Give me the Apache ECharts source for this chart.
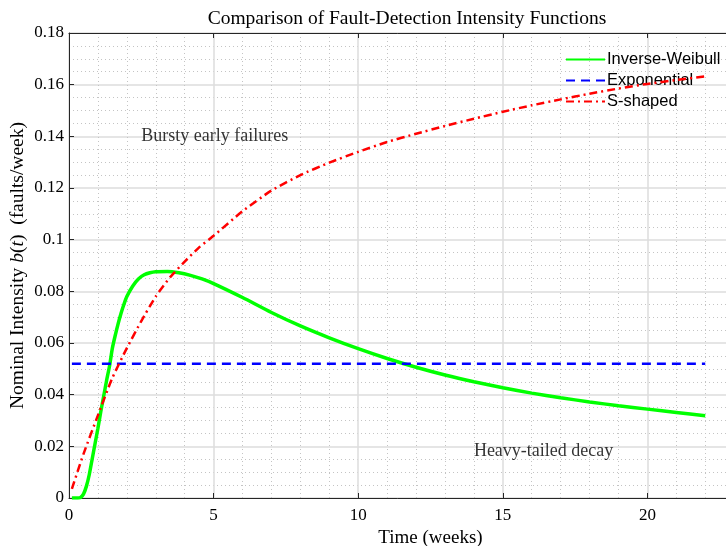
<!DOCTYPE html>
<html>
<head>
<meta charset="utf-8">
<script src="https://cdn.jsdelivr.net/npm/echarts@6/dist/echarts.min.js"></script>
<style>
  html, body { margin: 0; padding: 0; background: #fff; overflow: hidden; }
  #chart { width: 726px; height: 546px; }
</style>
</head>
<body>
<div id="chart"></div>
<script>
(function () {
    "use strict";
    // values
    var weibullT = [0.1, 0.3, 0.4, 0.5, 0.6, 0.7, 0.8, 0.9, 1.0, 1.1, 1.2, 1.3, 1.4, 1.5, 1.6, 1.7, 1.8, 1.9, 2.0, 2.2, 2.4, 2.6, 2.8, 3.0, 3.4, 3.8, 4.2, 4.6, 5, 6, 7, 8, 9, 10, 11, 12, 13, 14, 15, 16, 17, 18, 19, 20, 21, 22];
    var weibullV = [0, 0, 0.0002, 0.0015, 0.0045, 0.009, 0.015, 0.021, 0.027, 0.0335, 0.0395, 0.0455, 0.051, 0.058, 0.063, 0.0675, 0.0715, 0.075, 0.078, 0.082, 0.0848, 0.0864, 0.0872, 0.0876, 0.0877, 0.0872, 0.0862, 0.0848, 0.083, 0.0776, 0.0718, 0.0666, 0.062, 0.0578, 0.054, 0.0506, 0.0476, 0.045, 0.0427, 0.0406, 0.0388, 0.0372, 0.0357, 0.0344, 0.0331, 0.0318];
    var expT = [0.1, 22];
    var expV = [0.052, 0.052];
    var sT = [0.1, 0.5, 1.0, 1.5, 2.0, 2.5, 3.0, 3.5, 4.0, 4.5, 5, 6, 7, 8, 9, 10, 11, 12, 13, 14, 15, 16, 17, 18, 19, 20, 21, 22];
    var sV = [0.0035, 0.017, 0.032, 0.0465, 0.058, 0.0685, 0.078, 0.0855, 0.0915, 0.097, 0.1015, 0.111, 0.119, 0.125, 0.1298, 0.134, 0.1378, 0.141, 0.144, 0.1468, 0.1495, 0.152, 0.1543, 0.1565, 0.1585, 0.1603, 0.1618, 0.1632];
    var seriesNames = ["Inverse-Weibull", "Exponential", "S-shaped"];
    var xTicks = [0, 5, 10, 15, 20, 25];
    var yTicks = [0, 0.02, 0.04, 0.06, 0.08, 0.1, 0.12, 0.14, 0.16, 0.18];
    var notes = [
        { t: 2.5, v: 0.14, text: "Bursty early failures" },
        { t: 14.0, v: 0.018, text: "Heavy-tailed decay" }
    ];

    function pairs(ts, vs) {
        var out = [];
        for (var i = 0; i < ts.length; i++) out.push([ts[i], vs[i]]);
        return out;
    }

    var serif = "Liberation Serif";
    var axisColor = "#262626";
    var chart = echarts.init(document.getElementById("chart"));

    // the right part of the axes box falls outside the window, like the reference
    var baseX = {
        type: "value",
        min: xTicks[0],
        max: xTicks[xTicks.length - 1],
        interval: 5,
        axisLine: { onZero: false, lineStyle: { color: axisColor, width: 1 } },
        axisTick: { inside: true, length: 5, lineStyle: { color: axisColor } }
    };

    var option = {
        animation: false,
        backgroundColor: "#fff",
        title: {
            text: "Comparison of Fault-Detection Intensity Functions",
            left: 402,
            textAlign: "center",
            top: 4,
            textStyle: { fontFamily: serif, fontSize: 19.5, fontWeight: "normal", color: "#000" }
        },
        legend: {
            orient: "vertical",
            left: 565,
            top: 51,
            padding: 0,
            itemWidth: 39,
            itemHeight: 14,
            itemGap: 4,
            data: seriesNames,
            itemStyle: { opacity: 0 },
            textStyle: { fontFamily: "Liberation Sans", fontSize: 16.5, color: "#000", padding: [0, 0, 0, -3] }
        },
        grid: { left: 69, top: 33, bottom: 48, width: 723, containLabel: false, outerBoundsMode: "none" },
        xAxis: [
            Object.assign({}, baseX, {
                position: "bottom",
                name: "Time (weeks)",
                nameLocation: "middle",
                nameGap: 30,
                nameTextStyle: { fontFamily: serif, fontSize: 19, color: "#000" },
                axisLabel: { margin: 9, fontFamily: serif, fontSize: 17, color: "#000" },
                splitLine: { show: true, lineStyle: { color: "#dcdcdc", width: 1.5 } },
                minorTick: { show: true, splitNumber: 5, length: 0 },
                minorSplitLine: { show: true, lineStyle: { color: "#c4c4c4", width: 1, type: [1, 3] } }
            }),
            Object.assign({}, baseX, {
                position: "top",
                axisLabel: { show: false },
                splitLine: { show: false }
            })
        ],
        yAxis: {
            type: "value",
            min: yTicks[0],
            max: yTicks[yTicks.length - 1],
            interval: 0.02,
            name: "{n|Nominal Intensity }{i|b}{n|(}{i|t}{n|)  (faults/week)}",
            nameLocation: "middle",
            nameGap: 41,
            nameMoveOverlap: false,
            nameTextStyle: {
                rich: {
                    n: { fontFamily: serif, fontSize: 19.5, color: "#000" },
                    i: { fontFamily: serif, fontSize: 19.5, fontStyle: "italic", color: "#000" }
                }
            },
            axisLine: { show: true, lineStyle: { color: axisColor, width: 1 } },
            axisTick: { inside: true, length: 5, lineStyle: { color: axisColor } },
            axisLabel: {
                margin: 5,
                fontFamily: serif,
                fontSize: 17,
                color: "#000",
                formatter: function (v) { return String(+v.toFixed(2)); }
            },
            splitLine: { show: true, lineStyle: { color: "#dcdcdc", width: 1.5 } },
            minorTick: { show: true, splitNumber: 4, length: 0 },
            minorSplitLine: { show: true, lineStyle: { color: "#c4c4c4", width: 1, type: [1, 3] } }
        },
        series: [
            {
                name: seriesNames[0],
                type: "line",
                smooth: 0.2,
                symbol: "none",
                data: pairs(weibullT, weibullV),
                lineStyle: { color: "#00ff00", width: 3.5 },
                itemStyle: { color: "#00ff00" },
                z: 3
            },
            {
                name: seriesNames[1],
                type: "line",
                symbol: "none",
                data: pairs(expT, expV),
                lineStyle: { color: "#0000ff", width: 2.5, type: [9, 6] },
                itemStyle: { color: "#0000ff" },
                z: 4
            },
            {
                name: seriesNames[2],
                type: "line",
                smooth: 0.2,
                symbol: "none",
                data: pairs(sT, sV),
                lineStyle: { color: "#ff0000", width: 2.5, type: [8, 4, 2, 4] },
                itemStyle: { color: "#ff0000" },
                z: 5
            },
            {
                name: "notes",
                type: "scatter",
                symbolSize: 0,
                silent: true,
                data: notes.map(function (n) { return { value: [n.t, n.v], name: n.text }; }),
                label: {
                    show: true,
                    position: "right",
                    distance: 0,
                    formatter: "{b}",
                    fontFamily: serif,
                    fontSize: 18,
                    color: "#000"
                }
            }
        ]
    };
    chart.setOption(option);
})();
</script>
</body>
</html>
